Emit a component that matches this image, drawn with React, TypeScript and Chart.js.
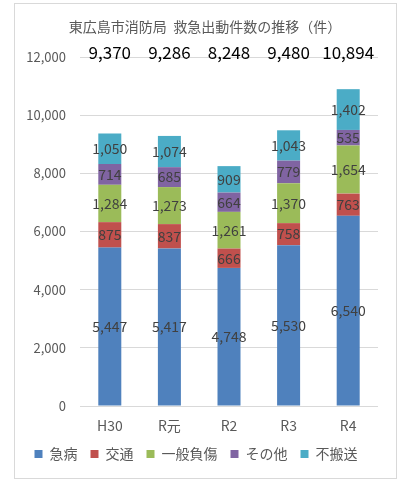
import React, { useEffect, useRef } from "react";
import { Chart, registerables } from "chart.js";

Chart.register(...registerables);

const title = "東広島市消防局  救急出動件数の推移（件）";
const categories = ["H30", "R元", "R2", "R3", "R4"];
const seriesNames = ["急病", "交通", "一般負傷", "その他", "不搬送"];
const kyubyo = [5447, 5417, 4748, 5530, 6540];
const kotsu = [875, 837, 666, 758, 763];
const ippanFusho = [1284, 1273, 1261, 1370, 1654];
const sonota = [714, 685, 664, 779, 535];
const fuhanso = [1050, 1074, 909, 1043, 1402];
const totals = [9370, 9286, 8248, 9480, 10894];
const colors = ["#4F81BD", "#C0504D", "#9BBB59", "#8064A2", "#4BACC6"];

const FONT = "'Noto Sans CJK JP', 'Noto Sans', sans-serif";
const fmt = (v: number) => v.toLocaleString("en-US");

export default function App() {
  const ref = useRef<HTMLCanvasElement>(null);
  useEffect(() => {
    if (!ref.current) return;
    const values = [kyubyo, kotsu, ippanFusho, sonota, fuhanso];
    const labelPlugin = {
      id: "labels",
      afterDatasetsDraw(chart: any) {
        const ctx = chart.ctx;
        ctx.save();
        ctx.textAlign = "center";
        ctx.textBaseline = "middle";
        ctx.fillStyle = "#404040";
        ctx.font = `14px ${FONT}`;
        chart.data.datasets.forEach((ds: any, i: number) => {
          const meta = chart.getDatasetMeta(i);
          meta.data.forEach((bar: any, j: number) => {
            const { x, y, base } = bar.getProps(["x", "y", "base"], true);
            ctx.fillText(fmt(ds.data[j]), x, (y + base) / 2);
          });
        });
        // totals
        ctx.fillStyle = "#000000";
        ctx.font = `17px ${FONT}`;
        const xs = chart.scales.x;
        totals.forEach((t, j) => {
          ctx.fillText(fmt(t), xs.getPixelForValue(j), 53);
        });
        // title
        ctx.fillStyle = "#595959";
        ctx.font = `14px ${FONT}`;
        ctx.fillText(title, 205, 27);
        ctx.restore();
      },
    };
    const chart = new Chart(ref.current, {
      type: "bar",
      data: {
        labels: categories,
        datasets: seriesNames.map((n, i) => ({
          label: n,
          data: values[i],
          backgroundColor: colors[i],
          borderWidth: 0,
          categoryPercentage: 1,
          barPercentage: 0.386,
        })),
      },
      options: {
        animation: false,
        responsive: false,
        layout: { padding: { left: 14, right: 27, top: 57, bottom: 12 } },
        plugins: {
          legend: {
            position: "bottom",
            labels: {
              boxWidth: 8,
              boxHeight: 8,
              padding: 13,
              color: "#595959",
              font: { family: FONT, size: 14 },
            },
          },
          tooltip: { enabled: false },
          title: { display: false },
        },
        scales: {
          x: {
            stacked: true,
            grid: { display: false },
            border: { display: false },
            ticks: { color: "#595959", font: { family: FONT, size: 14 }, padding: 3 },
            afterFit: (s: any) => { s.height = 28; },
          },
          y: {
            stacked: true,
            min: 0,
            max: 12000,
            grid: { color: "#d9d9d9", drawTicks: false },
            border: { display: false },
            ticks: {
              stepSize: 2000,
              color: "#595959",
              font: { family: FONT, size: 13 },
              padding: 14,
              callback: (v: any) => fmt(Number(v)),
            },
            afterFit: (s: any) => { s.width = 66; },
          },
        },
      },
      plugins: [labelPlugin],
    });
    return () => chart.destroy();
  }, []);
  return (
    <div style={{ position: "absolute", left: 0, top: 0, width: 405, height: 483 }}>
      <div
        style={{
          position: "absolute",
          left: 14,
          top: 3,
          width: 381,
          height: 474,
          border: "1px solid #d9d9d9",
        }}
      />
      <canvas ref={ref} width={405} height={483} style={{ position: "absolute", left: 0, top: 0 }} />
    </div>
  );
}
